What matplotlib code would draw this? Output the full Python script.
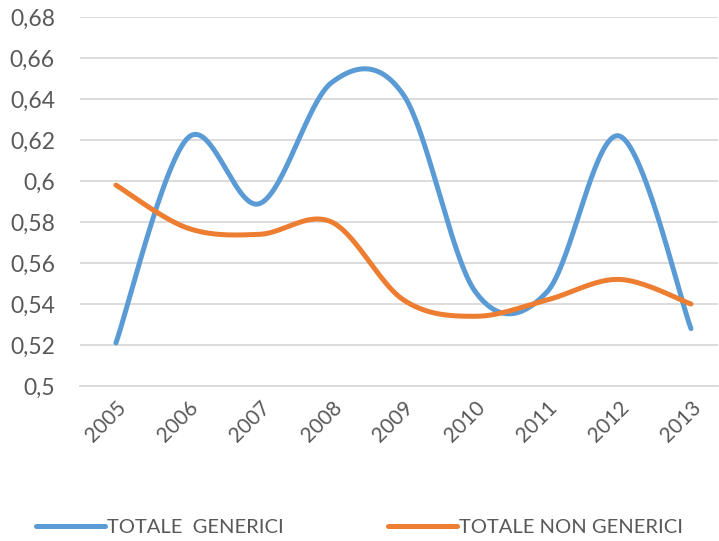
import numpy as np
import matplotlib.pyplot as plt

years = ['2005', '2006', '2007', '2008', '2009', '2010', '2011', '2012', '2013']
generici = [0.521, 0.621, 0.589, 0.648, 0.642, 0.546, 0.546, 0.622, 0.528]
non_generici = [0.598, 0.577, 0.574, 0.580, 0.542, 0.534, 0.542, 0.552, 0.540]
yticks = [0.5, 0.52, 0.54, 0.56, 0.58, 0.6, 0.62, 0.64, 0.66, 0.68]
ytick_labels = ['0,5', '0,52', '0,54', '0,56', '0,58', '0,6', '0,62', '0,64', '0,66', '0,68']


def smooth(x, y, n=40):
    # Catmull-Rom style smoothing like Excel's "smoothed line"
    x = np.asarray(x, float)
    y = np.asarray(y, float)
    px = np.concatenate([[x[0]], x, [x[-1]]])
    py = np.concatenate([[y[0]], y, [y[-1]]])
    xs, ys = [], []
    t = np.linspace(0, 1, n)
    for i in range(1, len(px) - 2):
        p0, p1, p2, p3 = [np.array([px[j], py[j]]) for j in (i - 1, i, i + 1, i + 2)]
        c1 = p1 + (p2 - p0) / 6
        c2 = p2 - (p3 - p1) / 6
        b = ((1 - t) ** 3)[:, None] * p1 + (3 * (1 - t) ** 2 * t)[:, None] * c1 \
            + (3 * (1 - t) * t ** 2)[:, None] * c2 + (t ** 3)[:, None] * p2
        xs.extend(b[:, 0])
        ys.extend(b[:, 1])
    return xs, ys


plt.rcParams['font.family'] = ['Lato', 'DejaVu Sans']
grey = '#595959'

fig = plt.figure(figsize=(7.19, 5.41), dpi=100)
ax = fig.add_axes([80 / 719, 1 - 386 / 541, 638 / 719, 369 / 541])

x = np.arange(len(years))
gx, gy = smooth(x, generici)
nx, ny = smooth(x, non_generici)
ax.plot(gx, gy, color='#5B9BD5', lw=3.6, solid_capstyle='round', label='TOTALE  GENERICI')
ax.plot(nx, ny, color='#ED7D31', lw=3.6, solid_capstyle='round', label='TOTALE NON GENERICI')

ax.set_ylim(0.5, 0.68)
ax.set_xlim(-0.5, 8.376)
ax.set_yticks(yticks)
ax.set_yticklabels(ytick_labels)
ax.set_xticks(x)
ax.set_xticklabels(years, rotation=45, ha='right', rotation_mode='anchor')
ax.yaxis.grid(True, color='#d9d9d9', lw=1.3)
ax.set_axisbelow(True)
for s in ['left', 'right', 'top']:
    ax.spines[s].set_visible(False)
ax.spines['bottom'].set_color('#d9d9d9')
ax.spines['bottom'].set_linewidth(1.3)
ax.tick_params(axis='both', length=0, colors=grey)
ax.tick_params(axis='y', pad=18, labelsize=16.5)
ax.tick_params(axis='x', pad=8, labelsize=15)

fig.legend(loc='center', bbox_to_anchor=(0.5, 1 - 527 / 541), ncol=2, frameon=False,
           fontsize=14.5, labelcolor=grey, handlelength=3.4, handletextpad=0.1,
           columnspacing=5.2)

fig.savefig('out.png', dpi=100)
